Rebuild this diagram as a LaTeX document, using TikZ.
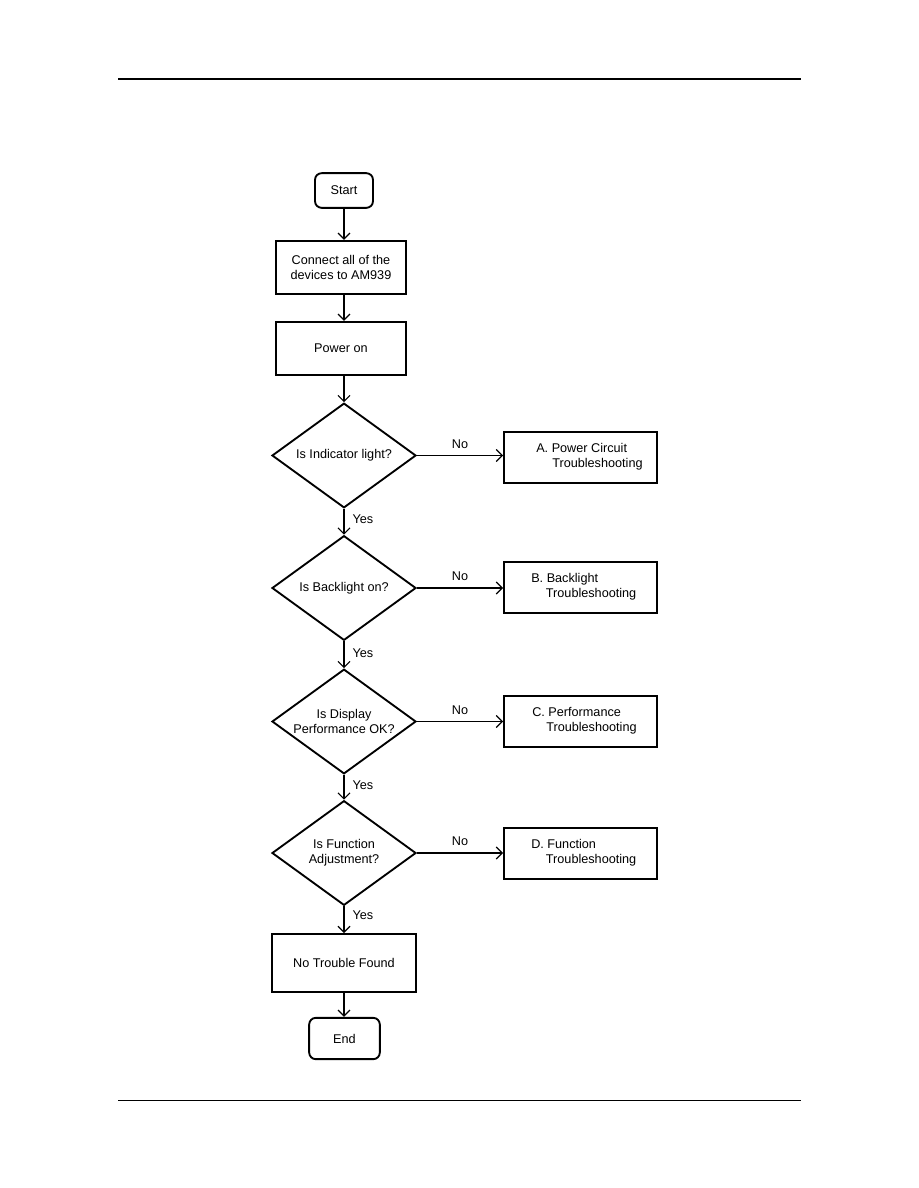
\documentclass[tikz,border=0pt]{standalone}
\usepackage{fontspec}
\setmainfont{Liberation Sans}
\usetikzlibrary{shapes.geometric,arrows.meta}
\begin{document}
\begin{tikzpicture}[x=0.75pt,y=-0.75pt,
  every node/.style={font=\fontsize{9.5}{11.5}\selectfont},
  term/.style={draw,line width=1.4pt,rounded corners=5pt,inner sep=0pt},
  pbox/.style={draw,line width=1.4pt,inner sep=0pt,align=center},
  dec/.style={draw,diamond,line width=1.4pt,inner sep=0pt,minimum width=108pt,minimum height=78.5pt,
    label={[align=center,inner sep=0pt,font=\fontsize{9.5}{11.5}\selectfont]center:#1}},
  conn/.style={line width=0.9pt,-{Straight Barb[length=4.5pt,width=9pt,line width=0.9pt]}},
  lbl/.style={inner sep=0pt}]
\useasboundingbox (0,0) rectangle (918,1188);
% page rules
\draw[line width=1.6pt] (118,79) -- (801,79);
\draw[line width=0.7pt] (118,1100) -- (801,1100);
% nodes
\node[term,minimum width=43.5pt,minimum height=26pt] (start) at (344,190.5) {Start};
\node[pbox,minimum width=97.5pt,minimum height=40pt] (conn) at (341,267.5) {Connect all of the\\devices to AM939};
\node[pbox,minimum width=97.5pt,minimum height=40pt] (pwr) at (341,348.5) {Power on};
\node[dec={Is Indicator light?}] (d1) at (344,455.5) {};
\node[dec={Is Backlight on?}] (d2) at (344,588) {};
\node[dec={Is Display\\Performance OK?}] (d3) at (344,721.5) {};
\node[dec={Is Function\\Adjustment?}] (d4) at (344,853) {};
\node[pbox,minimum width=108pt,minimum height=43.5pt] (ntf) at (344,963) {No Trouble Found};
\node[term,minimum width=53pt,minimum height=31pt] (end) at (344.5,1038.5) {End};
\node[pbox,minimum width=114.75pt,minimum height=38.25pt] (ba) at (580.5,457.5) {};
\node[pbox,minimum width=114.75pt,minimum height=38.25pt] (bb) at (580.5,587.5) {};
\node[pbox,minimum width=114.75pt,minimum height=38.25pt] (bc) at (580.5,721.5) {};
\node[pbox,minimum width=114.75pt,minimum height=38.25pt] (bd) at (580.5,853.5) {};
% box texts
\node[lbl,anchor=west,align=left] (ta) at (536,456.5) {A. Power Circuit\\\hspace*{12pt}Troubleshooting};
\node[lbl,anchor=west,align=left] (tb) at (531,587) {B. Backlight\\\hspace*{11pt}Troubleshooting};
\node[lbl,anchor=west,align=left] (tc) at (532,720.5) {C. Performance\\\hspace*{10.5pt}Troubleshooting};
\node[lbl,anchor=west,align=left] (td) at (531,852.5) {D. Function\\\hspace*{11pt}Troubleshooting};
% connectors
\draw[conn] (start.south) -- (start.south |- conn.north);
\draw[conn] (conn.south -| start) -- (start |- pwr.north);
\draw[conn] (pwr.south -| start) -- (d1.north);
\draw[conn] (d1.south) -- node[lbl,anchor=west,pos=0.4,xshift=6pt]{Yes} (d2.north);
\draw[conn] (d2.south) -- node[lbl,anchor=west,pos=0.45,xshift=6pt]{Yes} (d3.north);
\draw[conn] (d3.south) -- node[lbl,anchor=west,pos=0.4,xshift=6pt]{Yes} (d4.north);
\draw[conn] (d4.south) -- node[lbl,anchor=west,pos=0.35,xshift=6pt]{Yes} (ntf.north);
\draw[conn] (ntf.south) -- (ntf.south |- end.north);
\draw[conn] (d1.east) -- node[lbl,above=5pt]{No} (d1.east -| ba.west);
\draw[conn] (d2.east) -- node[lbl,above=5pt]{No} (d2.east -| bb.west);
\draw[conn] (d3.east) -- node[lbl,above=5pt]{No} (d3.east -| bc.west);
\draw[conn] (d4.east) -- node[lbl,above=5pt]{No} (d4.east -| bd.west);
\end{tikzpicture}
\end{document}
